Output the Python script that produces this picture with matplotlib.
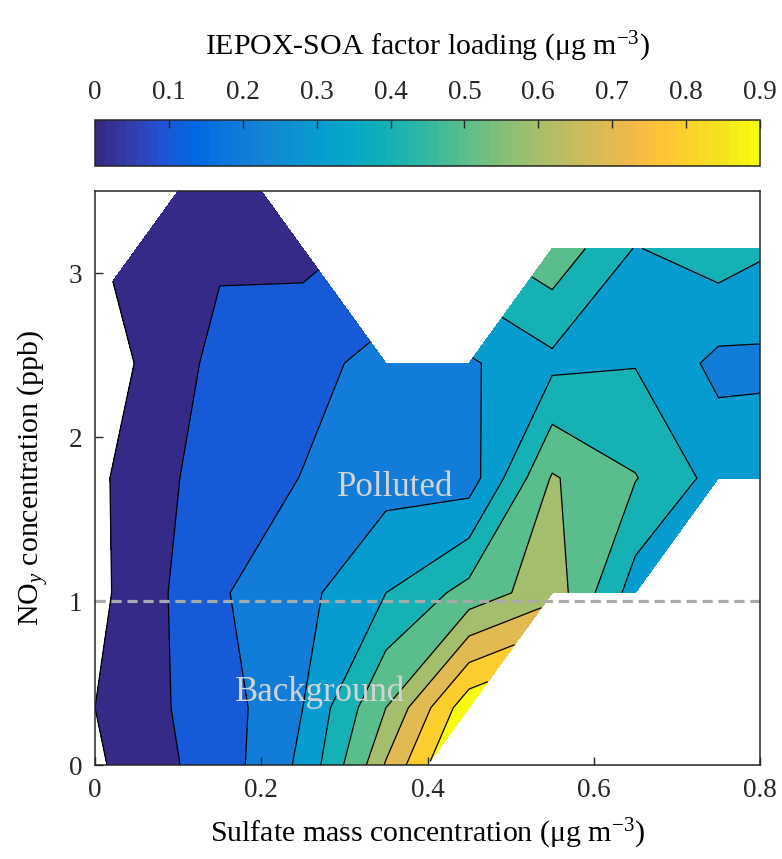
import numpy as np
import matplotlib
matplotlib.use('Agg')
import matplotlib.pyplot as plt
from matplotlib.colors import LinearSegmentedColormap, Normalize
from matplotlib.cm import ScalarMappable

plt.rcParams['font.family'] = 'Liberation Serif'
plt.rcParams['mathtext.fontset'] = 'custom'
plt.rcParams['mathtext.rm'] = 'Liberation Serif'
plt.rcParams['mathtext.it'] = 'Liberation Serif:italic'

nan = np.nan

# bin centres of the gridded data (grid runs half a bin past the axes)
sulfate = [-0.05, 0.05, 0.15, 0.25, 0.35, 0.45, 0.55, 0.65, 0.75, 0.85]
noy = [-0.35, 0.35, 1.05, 1.75, 2.45, 3.15, 3.85]

# IEPOX-SOA factor loading, one row per NOy bin
loading = [
    [-0.104, 0.028, 0.142, 0.354, 0.82, nan, nan, nan, nan, nan],
    [-0.066, 0.066, 0.148, 0.30, 0.60, 0.97, nan, nan, nan, nan],
    [-0.105, 0.045, 0.19, 0.27, 0.40, 0.537, 0.66, 0.35, nan, nan],
    [-0.106, 0.05, 0.146, 0.203, 0.26, 0.25, 0.61, 0.505, 0.363, 0.37],
    [-0.10, 0.003, 0.131, 0.17, 0.23, 0.287, 0.375, 0.395, 0.273, 0.28],
    [nan, 0.04, 0.085, 0.07, nan, nan, 0.57, 0.395, 0.455, 0.386],
    [nan, nan, 0.09, nan, nan, nan, nan, nan, nan, nan],
]

levels = [0, 0.1, 0.2, 0.3, 0.4, 0.5, 0.6, 0.7, 0.8, 0.9]
cbar_ticks = [0, 0.1, 0.2, 0.3, 0.4, 0.5, 0.6, 0.7, 0.8, 0.9]
x_ticks = [0, 0.2, 0.4, 0.6, 0.8]
y_ticks = [0, 1, 2, 3]

# MATLAB parula, every third entry
parula_pts = [
    (0.2081, 0.1663, 0.5292), (0.2081, 0.2386, 0.6771), (0.1253, 0.3242, 0.8303),
    (0.0060, 0.4086, 0.8828), (0.0498, 0.4586, 0.8641), (0.0779, 0.5040, 0.8384),
    (0.0641, 0.5570, 0.8240), (0.0265, 0.6137, 0.8135), (0.0228, 0.6535, 0.7768),
    (0.0590, 0.6838, 0.7254), (0.1453, 0.7098, 0.6646), (0.2586, 0.7317, 0.5954),
    (0.3953, 0.7459, 0.5244), (0.5300, 0.7491, 0.4661), (0.6473, 0.7456, 0.4188),
    (0.7525, 0.7384, 0.3768), (0.8507, 0.7299, 0.3360), (0.9450, 0.7261, 0.2886),
    (0.9990, 0.7653, 0.2164), (0.9789, 0.8271, 0.1633), (0.9589, 0.8949, 0.1132),
    (0.9763, 0.9831, 0.0538),
]
parula = LinearSegmentedColormap.from_list('parula', parula_pts, N=64)
norm = Normalize(0, 0.9)
band_colors = [parula(norm(v)) for v in levels]

fig = plt.figure(figsize=(7.82, 8.59), dpi=100)
ax = fig.add_axes([0.1215, 0.1094, 0.8504, 0.6682])

Z = np.ma.masked_invalid(np.array(loading))
ax.contourf(sulfate, noy, Z, levels=levels + [10], colors=band_colors,
            corner_mask=True)
ax.contour(sulfate, noy, Z, levels=levels, colors='k', linewidths=0.9,
           corner_mask=True)

ax.axhline(1, color='#a9a9a9', lw=2.3, ls=(0, (3.2, 1.8)))
ax.text(0.361, 1.69, 'Polluted', color='#d3d3d3', fontsize=25,
        ha='center', va='center')
ax.text(0.271, 0.445, 'Background', color='#d3d3d3', fontsize=25,
        ha='center', va='center')

ax.set_xlim(0, 0.8)
ax.set_ylim(0, 3.5)
ax.set_xticks(x_ticks)
ax.set_xticklabels(['0', '0.2', '0.4', '0.6', '0.8'])
ax.set_yticks(y_ticks)
ax.set_yticklabels([str(t) for t in y_ticks])
ax.tick_params(direction='in', length=6, width=1, labelsize=19.5,
               colors='#262626')
ax.tick_params(axis='x', pad=9)
ax.tick_params(axis='y', pad=9)
for s in ax.spines.values():
    s.set_color('#262626')
    s.set_linewidth(1.1)
ax.set_xlabel('Sulfate mass concentration (μg m$^{-3}$)', fontsize=21.5,
              labelpad=10)
ax.set_ylabel('NO$_y$ concentration (ppb)', fontsize=21.5, labelpad=13)

cax = fig.add_axes([0.1215, 0.8068, 0.8504, 0.0535])
sm = ScalarMappable(norm=norm, cmap=parula)
cb = fig.colorbar(sm, cax=cax, orientation='horizontal', ticks=cbar_ticks)
cax.xaxis.set_ticks_position('top')
cax.xaxis.set_label_position('top')
cax.set_xticklabels(['0', '0.1', '0.2', '0.3', '0.4', '0.5', '0.6', '0.7',
                     '0.8', '0.9'])
cax.tick_params(direction='in', length=6, width=1, labelsize=19.5, pad=11,
                colors='#262626')
cb.outline.set_edgecolor('#262626')
cb.outline.set_linewidth(1.1)
cb.set_label('IEPOX-SOA factor loading (μg m$^{-3}$)', fontsize=21.5,
             labelpad=18)

fig.savefig('out.png', dpi=100)
